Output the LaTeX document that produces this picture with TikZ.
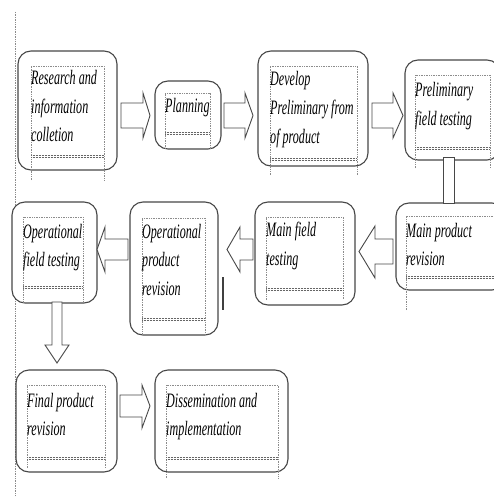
\documentclass[tikz,border=0pt]{standalone}
\usepackage{fontspec}
\setmainfont{Liberation Serif}[FakeStretch=0.59]
\begin{document}
\begin{tikzpicture}[x=1pt,y=-1pt,
  stepbox/.style={draw=black!72,line width=1.1pt,rounded corners=13pt,fill=white,inner sep=0pt},
  dotline/.style={draw=black!45,line width=0.6pt,dash pattern=on 0.8pt off 0.9pt},
  dblline/.style={draw=black!60,line width=0.7pt,dash pattern=on 1pt off 0.5pt},
  blockarrow/.style={draw=black!72,line width=0.9pt,fill=white,line join=miter},
  txt/.style={anchor=base west,inner sep=0pt,align=left,font=\itshape\fontsize{20.5}{28.5}\selectfont}]
\useasboundingbox (0,0) rectangle (494,497);
\clip (0,0) rectangle (494,497);
\newcommand\innerframe[5]{%
  \draw[dotline] (#1,#5)--(#1,#3)--(#2,#3)--(#2,#5);
  \draw[dblline] (#1,#4)--(#2,#4) (#1,#4+2.6)--(#2,#4+2.6);}
% margin line
\coordinate (m1) at (15.7,12);
\coordinate (m2) at (15.7,497);
\draw[dotline] (m1)--(m2);
% boxes
\node[stepbox,minimum width=99pt,minimum height=119pt] (b1) at (67.5,110.5) {};
\node[stepbox,minimum width=66pt,minimum height=68pt] (b2) at (188,115) {};
\node[stepbox,minimum width=110pt,minimum height=115pt] (b3) at (313,108.5) {};
\node[stepbox,minimum width=95pt,minimum height=100pt] (b4) at (452.5,110) {};
\node[stepbox,minimum width=109pt,minimum height=87pt] (b5) at (450.5,246.5) {};
\node[stepbox,minimum width=100pt,minimum height=103pt] (b6) at (305,253.5) {};
\node[stepbox,minimum width=88pt,minimum height=133pt] (b7) at (174,268.5) {};
\node[stepbox,minimum width=85pt,minimum height=101pt] (b8) at (54.5,252.5) {};
\node[stepbox,minimum width=101pt,minimum height=102pt] (b9) at (66.5,421) {};
\node[stepbox,minimum width=133pt,minimum height=102pt] (b10) at (221.5,421) {};
% inner frames
\innerframe{31}{104}{66}{155}{180}
\innerframe{165}{210}{93}{132}{149}
\innerframe{270}{357}{66}{158}{175}
\innerframe{415}{490}{75}{147}{168}
\innerframe{406}{520}{216}{276}{310}
\innerframe{266}{343}{217}{288}{300}
\innerframe{142}{205}{218}{318}{335}
\innerframe{23}{83}{217}{286}{303}
\innerframe{27}{105}{385}{457}{468}
\innerframe{166}{278}{385}{457}{478}
% texts (anchored at the baseline of the last line)
\node[txt] (t1) at (31,142) {Research and\\information\\colletion};
\node[txt] (t2) at (165,113) {Planning};
\node[txt] (t3) at (270,143) {Develop\\Preliminary from\\of product};
\node[txt] (t4) at (415,125.5) {Preliminary\\field testing};
\node[txt] (t5) at (406,265.5) {Main product\\revision};
\node[txt] (t6) at (266,265) {Main field\\testing};
\node[txt] (t7) at (142,295) {Operational\\product\\revision};
\node[txt] (t8) at (23,266.5) {Operational\\field testing};
\node[txt] (t9) at (27,435.5) {Final product\\revision};
\node[txt] (t10) at (166,435.5) {Dissemination and\\implementation};
% block arrows
\draw[blockarrow] (121,103)--(143,103)--(143,93)--(150,115.5)--(143,138)--(143,128)--(121,128)--cycle;
\draw[blockarrow] (224,103)--(245,103)--(245,93)--(253,115.5)--(245,138)--(245,128)--(224,128)--cycle;
\draw[blockarrow] (372,103)--(393,103)--(393,93)--(403,115.5)--(393,138)--(393,128)--(372,128)--cycle;
\draw[blockarrow] (443,157.5) rectangle (454,203.5);
\draw[blockarrow] (393,239)--(375,239)--(375,226)--(359,251.5)--(375,278)--(375,264)--(393,264)--cycle;
\draw[blockarrow] (253,239)--(240,239)--(240,227)--(227,249.5)--(240,272)--(240,260)--(253,260)--cycle;
\draw[blockarrow] (128,239)--(105,239)--(105,227)--(97,249.5)--(105,272)--(105,260)--(128,260)--cycle;
\draw[blockarrow] (52,302)--(52,345)--(45,345)--(57,363)--(69,345)--(62,345)--(62,302)--cycle;
\draw[blockarrow] (120,395)--(142,395)--(142,385)--(150,406)--(142,428)--(142,417)--(120,417)--cycle;
% stray mark
\coordinate (s1) at (223,277);
\coordinate (s2) at (223,310);
\draw[black!75,line width=1.5pt] (s1)--(s2);
\end{tikzpicture}
\end{document}
